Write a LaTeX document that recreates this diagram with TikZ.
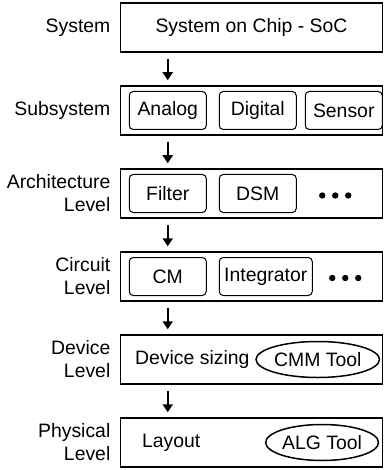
\documentclass[tikz,border=0pt]{standalone}
\usepackage{fontspec}
\setmainfont{Liberation Sans}
\usetikzlibrary{positioning,shapes.geometric,arrows.meta}

\tikzset{
  level/.style={draw, line width=0.75pt, minimum width=131pt, minimum height=24.5pt, inner sep=0pt},
  block/.style={draw, line width=0.5pt, rounded corners=2pt, minimum width=38.5pt, minimum height=19pt, inner sep=1pt},
  tool/.style={draw, ellipse, line width=0.75pt, minimum width=54pt, minimum height=18pt, inner sep=0pt},
  lbl/.style={align=right, inner sep=0pt},
  down/.style={-{Triangle[length=4pt,width=5pt]}, line width=1pt, shorten <=3pt, shorten >=2.5pt},
}

\begin{document}
\begin{tikzpicture}[x=0.5pt, y=-0.5pt, node distance=41.5pt, font=\fontsize{9.7}{11.5}\selectfont]
    \useasboundingbox (0,0) rectangle (384,470);

    % the six levels
    \node (system) [level] at (251.5,27.5) {System on Chip - SoC};
    \node (subsys) [level, below of=system] {};
    \node (arch) [level, below of=subsys] {};
    \node (circuit) [level, below of=arch] {};
    \node (device) [level, below of=circuit] {};
    \node (physical) [level, below of=device] {};

    % labels on the left
    \node (systemlbl) [lbl, left=4.5pt of system] {System};
    \node (subsyslbl) [lbl, left=4.5pt of subsys] {Subsystem};
    \node (archlbl) [lbl, left=4.5pt of arch] {Architecture\\Level};
    \node (circuitlbl) [lbl, left=4.5pt of circuit] {Circuit\\Level};
    \node (devicelbl) [lbl, left=4.5pt of device] {Device\\Level};
    \node (physicallbl) [lbl, left=4.5pt of physical] {Physical\\Level};

    % subsystem blocks
    \node (analog) [block, right=4.5pt of subsys.west] {Analog};
    \node (digital) [block, right=6pt of analog] {Digital};
    \node (sensor) [block, right=4pt of digital] {Sensor};

    % architecture blocks
    \node (filter) [block, right=4.5pt of arch.west] {Filter};
    \node (dsm) [block, right=6pt of filter] {DSM};
    \foreach \d in {-30.5, -24, -17.5}
        \fill ([xshift=\d pt, yshift=-1pt]arch.east) circle (1.6pt);

    % circuit blocks
    \node (cm) [block, right=4.5pt of circuit.west] {CM};
    \node (integrator) [block, minimum width=46.5pt, right=6pt of cm] {Integrator};
    \foreach \d in {-25.5, -19, -12.5}
        \fill ([xshift=\d pt, yshift=-0.75pt]circuit.east) circle (1.6pt);

    % device and physical
    \node (sizing) [inner sep=0pt, right=7.5pt of device.west] {Device sizing};
    \node (cmm) [tool, left=1.5pt of device.east] {CMM Tool};
    \node (layout) [inner sep=0pt, right=11pt of physical.west] {Layout};
    \node (alg) [tool, left=2pt of physical.east] {ALG Tool};

    \foreach \a/\b in {system/subsys, subsys/arch, arch/circuit, circuit/device, device/physical}
        \draw[down] ([xshift=24pt]\a.south west) -- ([xshift=24pt]\b.north west);
\end{tikzpicture}
\end{document}
